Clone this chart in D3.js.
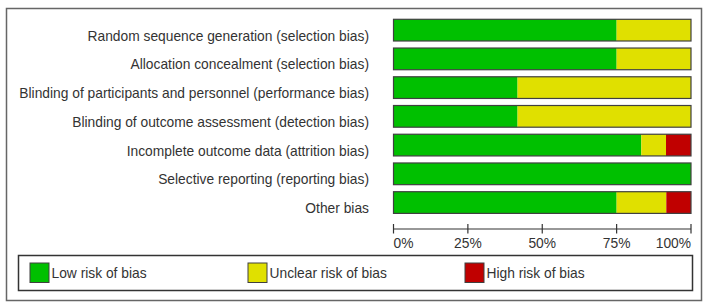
<!DOCTYPE html>
<html>
<head>
<meta charset="utf-8">
<script src="https://cdn.jsdelivr.net/npm/d3@7"></script>
<style>
  body { margin: 0; background: #fff; }
  svg { display: block; font-family: "Liberation Sans", Arial, sans-serif; }
</style>
</head>
<body>
<svg width="708" height="306"></svg>
<script>
// risk of bias domains, percentages of studies
var domains = [
  "Random sequence generation (selection bias)",
  "Allocation concealment (selection bias)",
  "Blinding of participants and personnel (performance bias)",
  "Blinding of outcome assessment (detection bias)",
  "Incomplete outcome data (attrition bias)",
  "Selective reporting (reporting bias)",
  "Other bias"
];
var lowRisk     = [75, 75, 41.7, 41.7, 83.3, 100, 75];
var unclearRisk = [25, 25, 58.3, 58.3, 8.3, 0, 16.7];
var highRisk    = [0, 0, 0, 0, 8.4, 0, 8.3];
var ticks = [0, 25, 50, 75, 100];
var legendLabels = ["Low risk of bias", "Unclear risk of bias", "High risk of bias"];
var colors = ["#00c000", "#e0e000", "#c00000"];

var svg = d3.select("svg");
var sx = 0.92; // text in the original is a bit narrow

var x = d3.scaleLinear().domain([0, 100]).range([393.5, 691]);
var y = d3.scaleBand().domain(domains).range([19.3, 213.4]).paddingInner(0.245).paddingOuter(0);

// outer frame
svg.append("rect")
  .attr("x", 6.5).attr("y", 8.5)
  .attr("width", 695).attr("height", 292)
  .attr("fill", "none").attr("stroke", "#666").attr("stroke-width", 1.5);

var rows = domains.map(function(d, i) {
  return { name: d, parts: [lowRisk[i], unclearRisk[i], highRisk[i]] };
});

// category labels
svg.append("g").selectAll("text")
  .data(rows)
  .join("text")
  .attr("transform", function(d) {
    return "translate(369," + (y(d.name) + y.bandwidth() / 2 + 10.5) + ") scale(" + sx + ",1)";
  })
  .attr("text-anchor", "end")
  .attr("font-size", 15)
  .attr("fill", "#333")
  .text(function(d) { return d.name; });

// stacked bars
var bars = svg.append("g").selectAll("g")
  .data(rows)
  .join("g")
  .attr("transform", function(d) { return "translate(0," + y(d.name) + ")"; });

bars.each(function(d) {
  var g = d3.select(this), acc = 0;
  d.parts.forEach(function(v, k) {
    if (v <= 0) return;
    g.append("rect")
      .attr("x", x(acc))
      .attr("width", x(acc + v) - x(acc))
      .attr("height", y.bandwidth())
      .attr("fill", colors[k]);
    acc += v;
  });
  g.append("rect")
    .attr("x", x(0)).attr("width", x(100) - x(0))
    .attr("height", y.bandwidth())
    .attr("fill", "none").attr("stroke", "#404040").attr("stroke-width", 1.2);
});

// axis
var axis = svg.append("g").attr("transform", "translate(0,229)");
axis.append("line")
  .attr("x1", x(0)).attr("x2", x(100))
  .attr("stroke", "#333").attr("stroke-width", 1.2);
axis.selectAll("line.tick")
  .data(ticks)
  .join("line")
  .attr("class", "tick")
  .attr("x1", x).attr("x2", x)
  .attr("y1", -5).attr("y2", 4.5)
  .attr("stroke", "#333").attr("stroke-width", 1.2);
axis.selectAll("text")
  .data(ticks)
  .join("text")
  .attr("transform", function(d) { return "translate(" + x(d) + ",18.5) scale(" + sx + ",1)"; })
  .attr("font-size", 15)
  .attr("fill", "#333")
  .attr("text-anchor", function(d, i) { return i === 0 ? "start" : (i === ticks.length - 1 ? "end" : "middle"); })
  .text(function(d) { return d + "%"; });

// legend
svg.append("rect")
  .attr("x", 18.5).attr("y", 255.5)
  .attr("width", 674).attr("height", 35)
  .attr("fill", "none").attr("stroke", "#333").attr("stroke-width", 1.5);

var legendX = [30, 248, 465];
var leg = svg.append("g").selectAll("g")
  .data(legendLabels)
  .join("g")
  .attr("transform", function(d, i) { return "translate(" + legendX[i] + ",263)"; });
leg.append("rect")
  .attr("width", 19).attr("height", 19.5)
  .attr("fill", function(d, i) { return colors[i]; })
  .attr("stroke", "#404040").attr("stroke-width", 1);
leg.append("text")
  .attr("transform", "translate(21.5,15) scale(" + sx + ",1)")
  .attr("font-size", 15)
  .attr("fill", "#333")
  .text(function(d) { return d; });
</script>
</body>
</html>
